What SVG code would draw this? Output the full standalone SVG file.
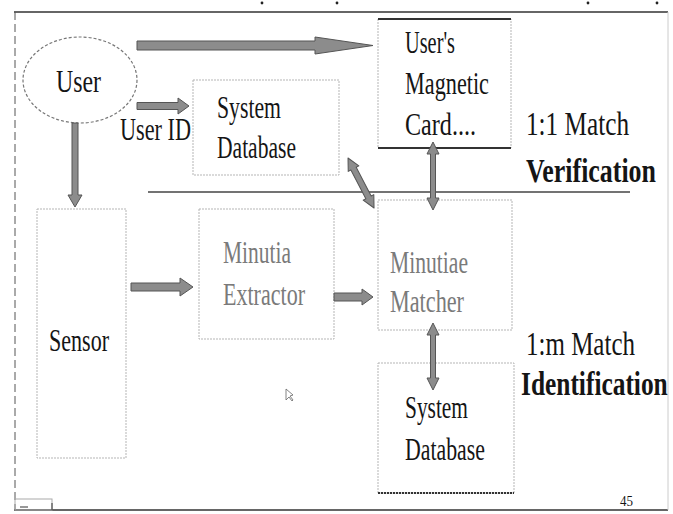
<svg xmlns="http://www.w3.org/2000/svg" width="673" height="514" viewBox="0 0 673 514">
  <style>
    text { font-family: "Liberation Serif", "DejaVu Serif", serif; }
    .t { font-size: 31px; fill: #151515; }
    .big { font-size: 33px; }
    .bold { font-weight: bold; }
    .pale { fill: #7a7a7a; }
    .box { fill: #fff; stroke: #b5b5b5; stroke-width: 1; stroke-dasharray: 2 1; }
    .edge { stroke: #333; stroke-width: 2; fill: none; }
    .arrow { fill: #8c8c8c; stroke: #555; stroke-width: 1; stroke-linejoin: round; }
    .frame { stroke: #333; stroke-width: 1.6; fill: none; }
  </style>

  <rect width="673" height="514" fill="#fff"/>

  <!-- slide frame -->
  <g id="frame">
    <line class="frame" x1="14" y1="12" x2="668" y2="12"/>
    <line class="frame" x1="14" y1="510" x2="668" y2="510"/>
    <line x1="15" y1="12" x2="15" y2="510" stroke="#555" stroke-width="1" stroke-dasharray="8 4"/>
    <line x1="668" y1="12" x2="668" y2="510" stroke="#ccc" stroke-width="1"/>
    <circle cx="262" cy="3" r="1.4" fill="#222"/>
    <circle cx="337" cy="3" r="1.4" fill="#222"/>
    <circle cx="588" cy="3" r="1.4" fill="#222"/>
    <circle cx="657" cy="3" r="1.4" fill="#222"/>
    <rect x="15" y="499" width="37" height="11" fill="none" stroke="#aaa" stroke-width="1"/>
    <path d="M20 507 h8 M52 503 v7" stroke="#333" stroke-width="1" fill="none"/>
    <line x1="148" y1="192" x2="630" y2="192" stroke="#444" stroke-width="1.5"/>
  </g>

  <!-- nodes -->
  <g id="user">
    <ellipse cx="80" cy="80" rx="57" ry="43" fill="#fff" stroke="#777" stroke-width="1.2" stroke-dasharray="3 2"/>
    <text class="t" x="56" y="92" textLength="45" lengthAdjust="spacingAndGlyphs">User</text>
  </g>

  <g id="user-id-label">
    <text class="t" x="120" y="140" textLength="71" lengthAdjust="spacingAndGlyphs">User ID</text>
  </g>

  <g id="magnetic-card">
    <rect class="box" x="378" y="19" width="133" height="129"/>
    <line class="edge" x1="378" y1="19" x2="511" y2="19" stroke-width="1.5"/>
    <line class="edge" x1="378" y1="148" x2="511" y2="148"/>
    <text class="t" x="405" y="53" textLength="50" lengthAdjust="spacingAndGlyphs">User's</text>
    <text class="t" x="405" y="94" textLength="84" lengthAdjust="spacingAndGlyphs">Magnetic</text>
    <text class="t" x="405" y="135" textLength="71" lengthAdjust="spacingAndGlyphs">Card....</text>
  </g>

  <g id="system-database-top">
    <rect class="box" x="193" y="80" width="146" height="95" stroke="#ccc"/>
    <text class="t" x="217" y="118" textLength="64" lengthAdjust="spacingAndGlyphs">System</text>
    <text class="t" x="217" y="158" textLength="79" lengthAdjust="spacingAndGlyphs">Database</text>
  </g>

  <g id="sensor">
    <rect class="box" x="37" y="209" width="89" height="249" stroke="#999"/>
    <text class="t" x="49" y="351" textLength="60" lengthAdjust="spacingAndGlyphs">Sensor</text>
  </g>

  <g id="minutia-extractor">
    <rect class="box" x="199" y="209" width="135" height="130" stroke="#c4c4c4"/>
    <text class="t pale" x="223" y="263" textLength="68" lengthAdjust="spacingAndGlyphs">Minutia</text>
    <text class="t pale" x="223" y="305" textLength="82" lengthAdjust="spacingAndGlyphs">Extractor</text>
  </g>

  <g id="minutiae-matcher">
    <rect class="box" x="378" y="200" width="134" height="130" stroke="#c4c4c4"/>
    <text class="t pale" x="390" y="273" textLength="78" lengthAdjust="spacingAndGlyphs">Minutiae</text>
    <text class="t pale" x="390" y="312" textLength="74" lengthAdjust="spacingAndGlyphs">Matcher</text>
  </g>

  <g id="system-database-bottom">
    <rect class="box" x="378" y="363" width="136" height="130" stroke="#999"/>
    <line class="edge" x1="378" y1="493" x2="514" y2="493" stroke-dasharray="2 1"/>
    <text class="t" x="405" y="418" textLength="63" lengthAdjust="spacingAndGlyphs">System</text>
    <text class="t" x="405" y="460" textLength="80" lengthAdjust="spacingAndGlyphs">Database</text>
  </g>

  <g id="labels">
    <text class="t big" x="526" y="135" textLength="103" lengthAdjust="spacingAndGlyphs">1:1 Match</text>
    <!-- condensed bold captions -->
    <text class="t big bold" transform="translate(526 182) scale(0.785 1)">Verification</text>
    <text class="t big" x="526" y="355" textLength="109" lengthAdjust="spacingAndGlyphs">1:m Match</text>
    <text class="t big bold" transform="translate(521 395) scale(0.77 1)">Identification</text>
    <text class="t" x="620" y="506" style="font-size:14px" textLength="13" lengthAdjust="spacingAndGlyphs">45</text>
  </g>

  <!-- pointer mark -->
  <g id="pointer">
    <path d="M286 389 L286 400 L289 397 L292 401 L293 400 L290 396 L293 395 Z" fill="#fff" stroke="#666" stroke-width="0.8"/>
  </g>

  <!-- connectors -->
  <g id="connectors">
    <!-- user to magnetic card -->
    <path class="arrow" d="M137 41 H315 V37 L373 45.5 L315 54 V50 H137 Z"/>
    <!-- user id to system database -->
    <path class="arrow" d="M137 102.5 H178 V98 L189 106 L178 114 V109.5 H137 Z"/>
    <!-- user to sensor -->
    <path class="arrow" d="M72 123 V195 H68 L75 207 L82 195 H78 V123 Z"/>
    <!-- sensor to minutia extractor -->
    <path class="arrow" d="M131 283 H180 V278 L193 287 L180 296 V291 H131 Z"/>
    <!-- extractor to matcher -->
    <path class="arrow" d="M334 293 H362 V289 L373 297 L362 305 V301 H334 Z"/>
    <!-- matcher to magnetic card -->
    <path class="arrow" d="M433 142 L439 154 H435.5 V198 H439 L433 210 L427 198 H430.5 V154 H427 Z"/>
    <!-- matcher to system database (lower) -->
    <path class="arrow" d="M433 323 L439 335 H435.5 V378 H439 L433 390 L427 378 H430.5 V335 H427 Z"/>
    <!-- matcher to system database (upper) -->
    <path class="arrow" transform="translate(348 158) rotate(62.5)" d="M0 0 L12 -6 V-3 H44.4 V-6 L56.4 0 L44.4 6 V3 H12 V6 Z"/>
  </g>
</svg>
